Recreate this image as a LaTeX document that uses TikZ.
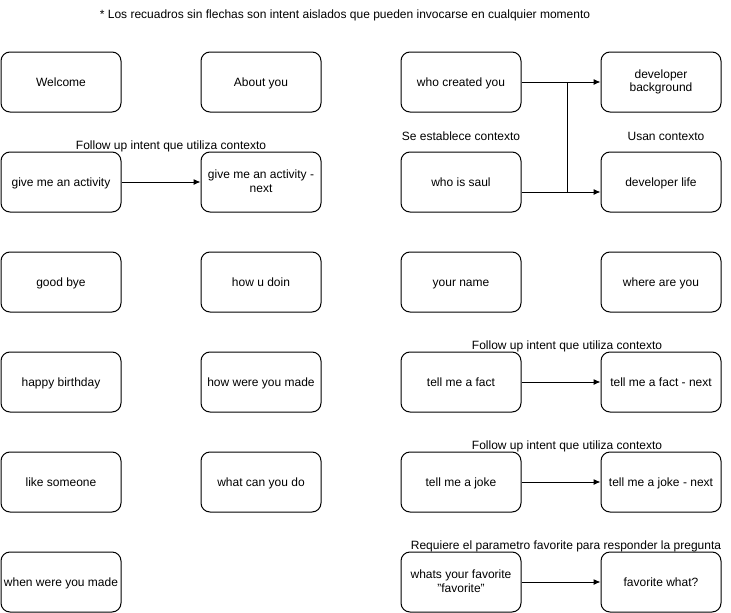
\documentclass[tikz,border=0pt]{standalone}
\usepackage{fontspec}
\setmainfont{Liberation Sans}
\usetikzlibrary{arrows.meta}
\newcommand{\boxstrut}{\rule[-2pt]{0pt}{12.5pt}}
\begin{document}
\begin{tikzpicture}[x=1pt,y=-1pt,
  font=\fontsize{12}{13.5}\selectfont,
  intent/.style={draw, line width=1pt, rounded corners=9pt, minimum width=120pt,
    minimum height=60pt, align=center, inner sep=0pt,
    execute at begin node={\boxstrut}, execute at end node={\boxstrut}},
  flow/.style={draw, line width=1pt, -{Latex[length=7pt,width=6pt]}},
  note/.style={inner sep=0pt, anchor=center}]
\useasboundingbox (0,0) rectangle (731,613);

% column 1
\node[intent] (welcome)   at (61,82)  {Welcome};
\node[intent] (activity)  at (61,182) {give me an activity};
\node[intent] (goodbye)   at (61,282) {good bye};
\node[intent] (birthday)  at (61,382) {happy birthday};
\node[intent] (like)      at (61,482) {like someone};
\node[intent] (whenmade)  at (61,582) {when were you made};

% column 2
\node[intent] (about)     at (261,82)  {About you};
\node[intent] (actnext)   at (261,182) {give me an activity -\\next};
\node[intent] (howdoin)   at (261,282) {how u doin};
\node[intent] (howmade)   at (261,382) {how were you made};
\node[intent] (whatcan)   at (261,482) {what can you do};

% column 3
\node[intent] (created)   at (461,82)  {who created you};
\node[intent] (saul)      at (461,182) {who is saul};
\node[intent] (name)      at (461,282) {your name};
\node[intent] (fact)      at (461,382) {tell me a fact};
\node[intent] (joke)      at (461,482) {tell me a joke};
\node[intent] (favq)      at (461,582) {whats your favorite\\"favorite"};

% column 4
\node[intent] (devbg)     at (661,82)  {developer\\background};
\node[intent] (devlife)   at (661,182) {developer life};
\node[intent] (where)     at (661,282) {where are you};
\node[intent] (factnext)  at (661,382) {tell me a fact - next};
\node[intent] (jokenext)  at (661,482) {tell me a joke - next};
\node[intent] (favwhat)   at (661,582) {favorite what?};

% labels
\node[note] (top)   at (345,15)  {* Los recuadros sin flechas son intent aislados que pueden invocarse en cualquier momento};
\node[note] (lbl1)  at (171,146) {Follow up intent que utiliza contexto};
\node[note] (lbl2)  at (461,136) {Se establece contexto};
\node[note] (lbl3)  at (666,136) {Usan contexto};
\node[note] (lbl4)  at (567,346) {Follow up intent que utiliza contexto};
\node[note] (lbl5)  at (567,446) {Follow up intent que utiliza contexto};
\node[note] (lbl6)  at (566,546) {Requiere el parametro favorite para responder la pregunta};

% connectors
\coordinate (jtop) at (567,82);
\coordinate (jbot) at (567,192);
\draw[flow] (activity.east) -- (actnext.west);
\draw[flow] (fact.east) -- (factnext.west);
\draw[flow] (joke.east) -- (jokenext.west);
\draw[flow] (favq.east) -- (favwhat.west);
\draw[flow] (created.east) -- (devbg.west);
\draw[flow] (saul.east |- jbot) -- (devlife.west |- jbot);
\draw[line width=1pt] (jtop) -- (jbot);
\end{tikzpicture}
\end{document}
